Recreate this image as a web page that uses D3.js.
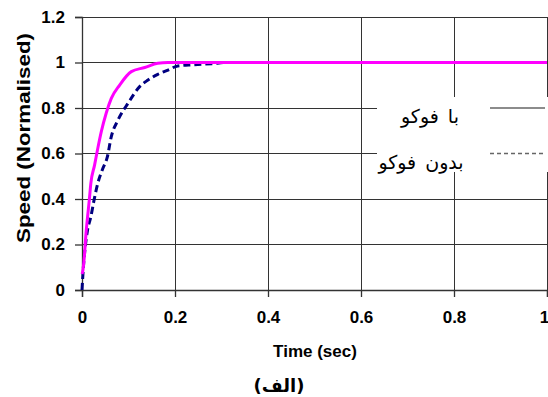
<!DOCTYPE html>
<html>
<head>
<meta charset="utf-8">
<script src="https://cdn.jsdelivr.net/npm/d3@7"></script>
<style>
  html, body { margin: 0; padding: 0; background: #fff; }
  svg { display: block; }
</style>
</head>
<body>
<svg id="chart" width="548" height="397"></svg>
<script>
// Step response: normalised speed vs time, with and without the controller
const timeWith   = [0, 0.0014, 0.005, 0.0086, 0.012, 0.0157, 0.019, 0.027, 0.034, 0.0415, 0.052, 0.063, 0.081, 0.106, 0.135, 0.163, 0.185, 1];
const speedWith  = [0.07, 0.08, 0.146, 0.249, 0.322, 0.396, 0.469, 0.549, 0.623, 0.696, 0.777, 0.842, 0.901, 0.96, 0.978, 0.997, 1.0, 1.0];

const timeWithout  = [0, 0.003, 0.007, 0.012, 0.019, 0.026, 0.034, 0.044, 0.0545, 0.063, 0.0774, 0.099, 0.124, 0.142, 0.163, 0.185, 0.206, 0.24, 0.28, 0.31, 0.35, 1];
const speedWithout = [0, 0.1, 0.19, 0.264, 0.322, 0.396, 0.469, 0.53, 0.585, 0.674, 0.747, 0.821, 0.894, 0.923, 0.948, 0.967, 0.985, 0.99, 0.995, 1.0, 1.0, 1.0];

const xTicks = [0, 0.2, 0.4, 0.6, 0.8, 1];
const yTicks = [0, 0.2, 0.4, 0.6, 0.8, 1, 1.2];
const seriesNames = ["با فوکو", "بدون فوکو"];
const xTitle = "Time (sec)";
const yTitle = "Speed (Normalised)";
const caption = "(الف)";

const svg = d3.select("#chart");
const latin = "'Liberation Sans', Arial, sans-serif";
const arabic = "'DejaVu Sans', sans-serif";

const x = d3.scaleLinear().domain([0, 1]).range([82, 547]);
const y = d3.scaleLinear().domain([0, 1.2]).range([290, 17]);

// grid
const grid = svg.append("g").attr("stroke", "#333").attr("stroke-width", 1).attr("shape-rendering", "crispEdges");
grid.selectAll("line.h").data(yTicks.slice(1)).join("line")
  .attr("x1", x(0)).attr("x2", x(1)).attr("y1", d => y(d)).attr("y2", d => y(d));
grid.selectAll("line.v").data(xTicks.slice(1)).join("line")
  .attr("x1", d => x(d)).attr("x2", d => x(d)).attr("y1", y(0)).attr("y2", y(1.2));

// axes
const xAxis = d3.axisBottom(x).tickValues(xTicks).tickSize(7).tickPadding(14)
  .tickFormat(d => d3.format("")(d));
const yAxis = d3.axisLeft(y).tickValues(yTicks).tickSize(7).tickPadding(10)
  .tickFormat(d => d3.format("")(+d.toFixed(1)));

const gx = svg.append("g").attr("transform", `translate(0,${y(0)})`).call(xAxis);
const gy = svg.append("g").attr("transform", `translate(${x(0)},0)`).call(yAxis);
[gx, gy].forEach(g => {
  g.select(".domain").attr("stroke", "#333").attr("stroke-width", 1.3);
  g.selectAll(".tick line").attr("stroke", "#333").attr("stroke-width", 1.3);
  g.selectAll(".tick text").attr("fill", "#000").style("font-family", latin)
    .style("font-size", "17px").style("font-weight", "bold");
});
// last x label sits flush with the right edge
gx.selectAll(".tick text").filter(d => d === 1).attr("text-anchor", "end").attr("dx", "0.1em");

// series
const line = d3.line().x(d => x(d[0])).y(d => y(d[1])).curve(d3.curveMonotoneX);
const withoutPts = timeWithout.map((t, i) => [t, speedWithout[i]]);
const withPts = timeWith.map((t, i) => [t, speedWith[i]]);

svg.append("path").datum(withoutPts).attr("d", line)
  .attr("fill", "none").attr("stroke", "#000080").attr("stroke-width", 3)
  .attr("stroke-dasharray", "7,4");
svg.append("path").datum(withPts).attr("d", line)
  .attr("fill", "none").attr("stroke", "#ff00ff").attr("stroke-width", 3)
  .attr("stroke-linejoin", "round");

// legend
const legend = svg.append("g");
legend.append("rect").attr("x", 377).attr("y", 97).attr("width", 171).attr("height", 75).attr("fill", "#fff");
const legendRows = [
  { name: seriesNames[0], y: y(0.8), cx: 430, dash: null },
  { name: seriesNames[1], y: y(0.6), cx: 421, dash: "4,3" }
];
legendRows.forEach(r => {
  legend.append("line").attr("x1", 490).attr("x2", 545).attr("y1", r.y).attr("y2", r.y)
    .attr("stroke", "#666").attr("stroke-width", 1.5).attr("stroke-dasharray", r.dash);
  legend.append("text").attr("x", r.cx).attr("y", r.y + 15).attr("text-anchor", "middle")
    .style("font-family", arabic).style("font-size", "19px").style("word-spacing", "3px")
    .attr("fill", "#000").text(r.name);
});

// titles
svg.append("text").attr("x", 315).attr("y", 357).attr("text-anchor", "middle")
  .style("font-family", latin).style("font-size", "17px").style("font-weight", "bold").text(xTitle);
svg.append("text").attr("transform", "translate(30,138) rotate(-90)").attr("text-anchor", "middle")
  .attr("textLength", 210).attr("lengthAdjust", "spacingAndGlyphs")
  .style("font-family", latin).style("font-size", "18px").style("font-weight", "bold").text(yTitle);
svg.append("text").attr("x", 279).attr("y", 392).attr("text-anchor", "middle")
  .style("font-family", arabic).style("font-size", "18px").style("font-weight", "bold").text(caption);
</script>
</body>
</html>
